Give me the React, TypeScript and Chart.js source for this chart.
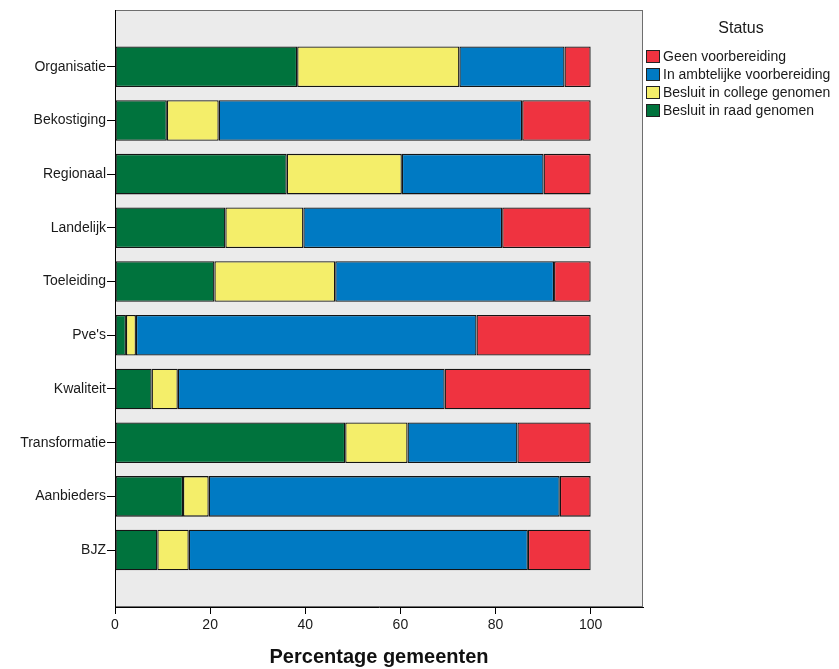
import React, { useEffect, useRef } from 'react';
import { Chart, registerables } from 'chart.js';

Chart.register(...registerables);

const categories = ['Organisatie', 'Bekostiging', 'Regionaal', 'Landelijk', 'Toeleiding', "Pve's", 'Kwaliteit', 'Transformatie', 'Aanbieders', 'BJZ'];
const raadGenomen = [38.3, 10.9, 36.1, 23.2, 20.9, 2.3, 7.7, 48.4, 14.3, 8.9];
const collegeGenomen = [34.1, 10.9, 24.2, 16.4, 25.4, 2.1, 5.5, 13.1, 5.4, 6.6];
const ambtelijk = [22.1, 63.8, 29.8, 41.8, 46.0, 71.6, 56.1, 23.1, 73.8, 71.3];
const geen = [5.5, 14.4, 9.9, 18.6, 7.7, 24.0, 30.7, 15.4, 6.5, 13.2];
const xTicks = [0, 20, 40, 60, 80, 100];

const legendItems = [
  { label: 'Geen voorbereiding', color: '#ef3340' },
  { label: 'In ambtelijke voorbereiding', color: '#007ac3' },
  { label: 'Besluit in college genomen', color: '#f4ee6a' },
  { label: 'Besluit in raad genomen', color: '#00733d' },
];

const FONT = '"Liberation Sans", Arial, sans-serif';

export default function App() {
  const ref = useRef<HTMLCanvasElement>(null);

  useEffect(() => {
    document.body.style.margin = '0';
    if (!ref.current) return;
    Chart.defaults.font.family = FONT;

    const toPts = (arr: number[]) => arr.map((v, i) => ({ x: v, y: i }));
    const mk = (label: string, data: number[], color: string) => ({
      label,
      data: toPts(data),
      backgroundColor: color,
      borderColor: '#141414',
      borderWidth: 1.3,
      borderSkipped: false as const,
      barPercentage: 0.755,
      categoryPercentage: 1,
    });

    const bgPlugin = {
      id: 'plotBg',
      beforeDraw(chart: any) {
        const { ctx, chartArea: a } = chart;
        ctx.save();
        ctx.fillStyle = '#ebebeb';
        ctx.fillRect(a.left, a.top, a.right - a.left, a.bottom - a.top);
        ctx.strokeStyle = '#6e6e6e';
        ctx.lineWidth = 1;
        ctx.strokeRect(a.left + 0.5, a.top + 0.5, a.right - a.left - 1, a.bottom - a.top - 1);
        ctx.restore();
      },
    };

    const chart = new Chart(ref.current, {
      type: 'bar',
      data: {
        datasets: [
          mk('Besluit in raad genomen', raadGenomen, '#00733d'),
          mk('Besluit in college genomen', collegeGenomen, '#f4ee6a'),
          mk('In ambtelijke voorbereiding', ambtelijk, '#007ac3'),
          mk('Geen voorbereiding', geen, '#ef3340'),
        ] as any,
      },
      options: {
        indexAxis: 'y',
        animation: false,
        responsive: false,
        maintainAspectRatio: false,
        layout: { padding: { left: 0, top: 10, right: 196, bottom: 0 } },
        plugins: {
          legend: { display: false },
          tooltip: { enabled: false },
        },
        scales: {
          x: {
            type: 'linear',
            stacked: true,
            min: 0,
            max: 111,
            offset: false,
            position: 'bottom',
            afterBuildTicks: (scale: any) => {
              scale.ticks = xTicks.map((v) => ({ value: v }));
            },
            afterFit: (scale: any) => {
              scale.height = 62;
            },
            ticks: {
              color: '#1a1a1a',
              font: { size: 14, family: FONT },
              padding: 3,
              maxRotation: 0,
              autoSkip: false,
            },
            grid: { drawOnChartArea: false, tickLength: 7, color: '#000', offset: false },
            border: { display: true, color: '#000', width: 1 },
            title: {
              display: true,
              text: 'Percentage gemeenten',
              color: '#111',
              font: { size: 20, weight: 'bold', family: FONT },
              padding: { top: 0, bottom: 0 },
            },
          },
          y: {
            type: 'linear',
            stacked: true,
            reverse: true,
            offset: false,
            min: -1.056,
            max: 10.06,
            afterBuildTicks: (scale: any) => {
              scale.ticks = categories.map((_, i) => ({ value: i }));
            },
            afterFit: (scale: any) => {
              scale.width = 115;
            },
            ticks: {
              color: '#1a1a1a',
              font: { size: 14, family: FONT },
              padding: 1,
              autoSkip: false,
              callback: (v: any) => categories[Math.round(Number(v))] ?? '',
            },
            grid: { drawOnChartArea: false, tickLength: 8, color: '#000', offset: false },
            border: { display: true, color: '#000', width: 1 },
          },
        },
      } as any,
      plugins: [bgPlugin],
    });
    return () => chart.destroy();
  }, []);

  return (
    <div style={{ position: 'relative', width: 839, height: 669, background: '#fff', fontFamily: FONT }}>
      <canvas ref={ref} width={839} height={669} style={{ display: 'block', width: 839, height: 669 }} />
      <div
        style={{
          position: 'absolute',
          left: 700,
          top: 18,
          width: 82,
          textAlign: 'center',
          fontSize: 16,
          lineHeight: '20px',
          color: '#1a1a1a',
        }}
      >
        Status
      </div>
      {legendItems.map((it, i) => (
        <div
          key={it.label}
          style={{
            position: 'absolute',
            left: 646,
            top: 47 + i * 18.1,
            height: 18,
            display: 'flex',
            alignItems: 'center',
            fontSize: 14,
            color: '#1a1a1a',
            whiteSpace: 'nowrap',
          }}
        >
          <span
            style={{
              display: 'inline-block',
              width: 12,
              height: 11,
              background: it.color,
              border: '1px solid #222',
              marginRight: 3,
            }}
          />
          <span>{it.label}</span>
        </div>
      ))}
    </div>
  );
}
